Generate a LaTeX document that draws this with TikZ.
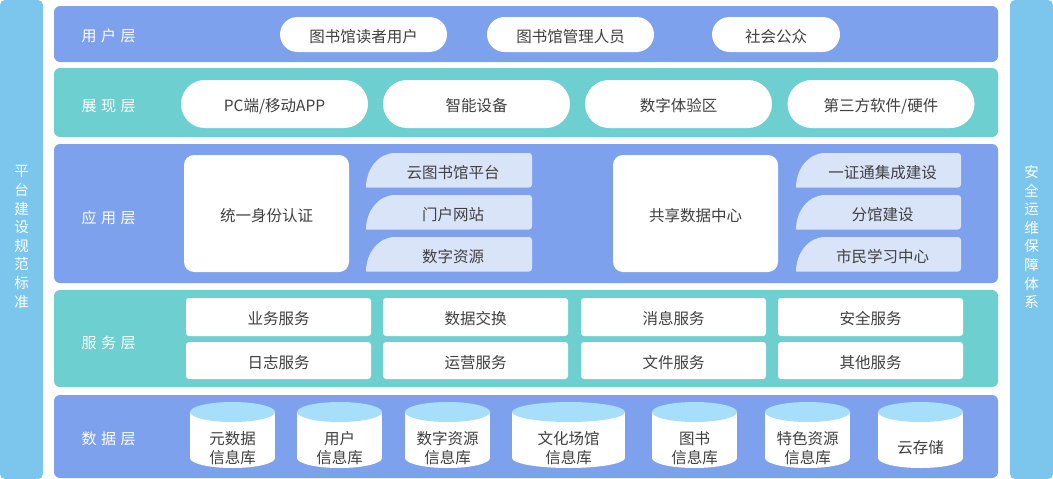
\documentclass[tikz,border=0pt]{standalone}
\usepackage{fontspec}
\setmainfont{Noto Sans CJK SC}
\definecolor{layerblue}{HTML}{7DA1EC}
\definecolor{layerteal}{HTML}{6DCFCF}
\definecolor{sidebar}{HTML}{7CC6EE}
\definecolor{lightbox}{HTML}{DAE4F9}
\definecolor{cyltop}{HTML}{A7DFFB}
\definecolor{txtgray}{HTML}{404040}
\newcommand\lboxshape[6]{%
  \fill[lightbox] (#1,#4) .. controls (#1,#4-19) and (#1+13,#2) .. (#1+29,#2)
    [rounded corners=3pt] -- (#3,#2) -- (#3,#4) [sharp corners] -- cycle;
  \node[txt] (#5) at ({(#1+#3)/2+4},{(#2+#4)/2}) {#6};
}
\newcommand\cylshape[4]{%
  \fill[white] (#1,412) rectangle (#2,458);
  \fill[white] ({(#1+#2)/2},458) ellipse[x radius={(#2-#1)/2}, y radius=10];
  \fill[cyltop] ({(#1+#2)/2},412) ellipse[x radius={(#2-#1)/2}, y radius=10];
  \node[txt, align=center, text height=, text depth=] (#3) at ({(#1+#2)/2},448) {#4};
}
\begin{document}
\begin{tikzpicture}[x=1pt,y=-1pt,
  every node/.style={inner sep=0pt, outer sep=0pt},
  txt/.style={text=txtgray, font=\fontsize{15.5}{19}\selectfont, text height=17pt, text depth=1.2pt},
  sidetxt/.style={text=white, align=center, font=\fontsize{14.5}{18.6}\selectfont},
  lbl/.style={text=white, font=\fontsize{15}{18}\selectfont, text height=17pt, text depth=1.2pt},
  bluelayer/.style={fill=layerblue, rounded corners=6pt, minimum width=944pt},
  teallayer/.style={fill=layerteal, rounded corners=6pt, minimum width=944pt},
  sidebarbox/.style={fill=sidebar, rounded corners=5pt, minimum width=43pt, minimum height=479pt},
  userpill/.style={txt, fill=white, rounded corners=17.5pt, minimum height=35pt},
  showpill/.style={txt, fill=white, rounded corners=24pt, minimum height=48pt, minimum width=187pt},
  bigbox/.style={txt, fill=white, rounded corners=10pt, minimum width=165pt, minimum height=117pt},
  svcbox/.style={txt, fill=white, rounded corners=3pt, minimum width=185pt},
]
\useasboundingbox (0,0) rectangle (1053,479);

% side bars
\node[sidebarbox] (leftbar) at (21.5,239.5) {};
\node[sidebarbox] (rightbar) at (1031.5,239.5) {};
\node[sidetxt] (lefttxt) at (21.5,237) {平\\台\\建\\设\\规\\范\\标\\准};
\node[sidetxt] (righttxt) at (1031.5,237) {安\\全\\运\\维\\保\\障\\体\\系};

% layers
\node[bluelayer, minimum height=56pt] (userlayer) at (526,34) {};
\node[teallayer, minimum height=69pt] (showlayer) at (526,102.5) {};
\node[bluelayer, minimum height=139pt] (applayer) at (526,213.5) {};
\node[teallayer, minimum height=97pt] (svclayer) at (526,338.5) {};
\node[bluelayer, minimum height=83pt] (datalayer) at (526,436.5) {};

% layer labels
\node[lbl] (l1) at (108.5,34) {用\kern4.5pt户\kern4.5pt层};
\node[lbl] (l2) at (108.5,104) {展\kern4.5pt现\kern4.5pt层};
\node[lbl] (l3) at (108.5,216) {应\kern4.5pt用\kern4.5pt层};
\node[lbl] (l4) at (108.5,341) {服\kern4.5pt务\kern4.5pt层};
\node[lbl] (l5) at (108.5,437) {数\kern4.5pt据\kern4.5pt层};

% user layer
\node[userpill, minimum width=167pt] (u1) at (363.5,34.5) {图书馆读者用户};
\node[userpill, minimum width=167pt] (u2) at (570.5,34.5) {图书馆管理人员};
\node[userpill, minimum width=128pt] (u3) at (776,34.5) {社会公众};

% presentation layer
\node[showpill] (p1) at (274.5,104) {PC端/移动APP};
\node[showpill] (p2) at (476.5,104) {智能设备};
\node[showpill] (p3) at (678.5,104) {数字体验区};
\node[showpill] (p4) at (881,104) {第三方软件/硬件};

% application layer
\node[bigbox] (a1) at (266.5,213.5) {统一身份认证};
\node[bigbox] (a2) at (695.5,213.5) {共享数据中心};
\lboxshape{366}{153}{532}{187.5}{b1}{云图书馆平台}
\lboxshape{366}{195}{532}{229.5}{b2}{门户网站}
\lboxshape{366}{237}{532}{271.5}{b3}{数字资源}
\lboxshape{796}{153}{961}{187.5}{c1}{一证通集成建设}
\lboxshape{796}{195}{961}{229.5}{c2}{分馆建设}
\lboxshape{796}{237}{961}{271.5}{c3}{市民学习中心}

% service layer
\node[svcbox, minimum height=38pt] (s1) at (278.5,317) {业务服务};
\node[svcbox, minimum height=38pt] (s2) at (475.5,317) {数据交换};
\node[svcbox, minimum height=38pt] (s3) at (673.5,317) {消息服务};
\node[svcbox, minimum height=38pt] (s4) at (870.5,317) {安全服务};
\node[svcbox, minimum height=37pt] (s5) at (278.5,360.5) {日志服务};
\node[svcbox, minimum height=37pt] (s6) at (475.5,360.5) {运营服务};
\node[svcbox, minimum height=37pt] (s7) at (673.5,360.5) {文件服务};
\node[svcbox, minimum height=37pt] (s8) at (870.5,360.5) {其他服务};

% data layer
\cylshape{190}{275}{d1}{元数据\\信息库}
\cylshape{297}{382}{d2}{用户\\信息库}
\cylshape{405}{490}{d3}{数字资源\\信息库}
\cylshape{512}{625}{d4}{文化场馆\\信息库}
\cylshape{652}{737}{d5}{图书\\信息库}
\cylshape{765}{850}{d6}{特色资源\\信息库}
\cylshape{878}{963}{d7}{云存储}
\end{tikzpicture}
\end{document}
